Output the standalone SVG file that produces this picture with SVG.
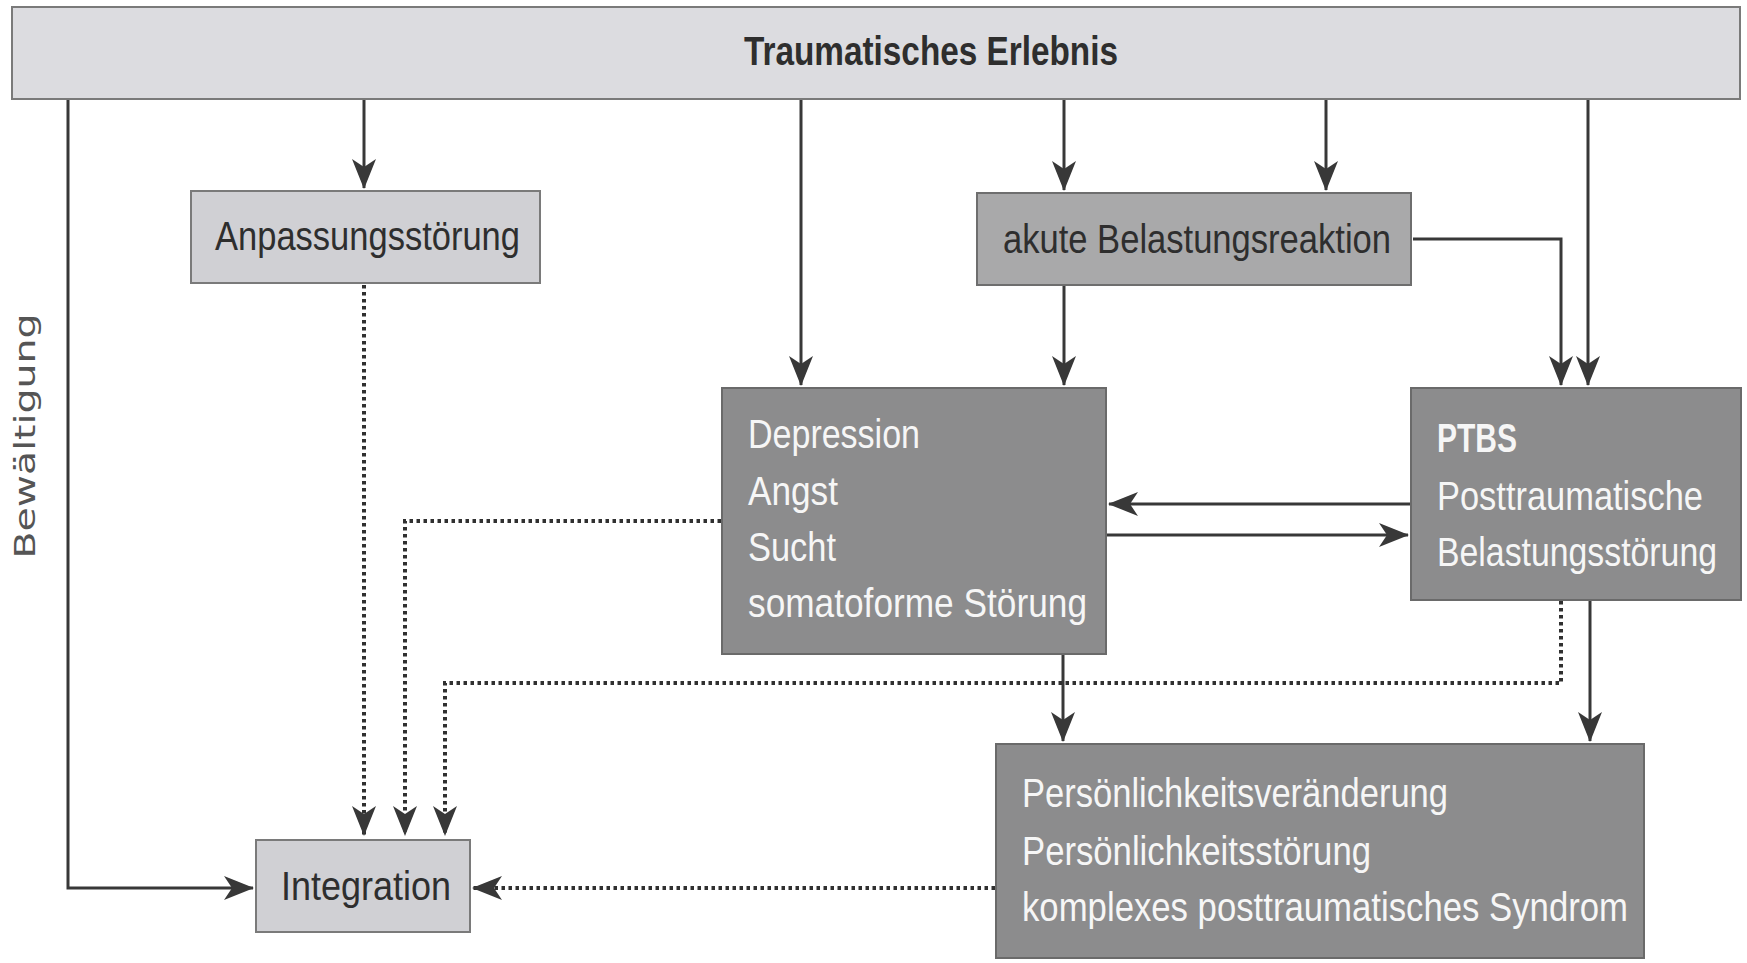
<svg xmlns="http://www.w3.org/2000/svg" width="1747" height="963" viewBox="0 0 1747 963">
<style>
.bg{fill:#ffffff}
.light{fill:#dcdce0;stroke:#7a7a7a;stroke-width:2}
.mid{fill:#d0d0d4;stroke:#7a7a7a;stroke-width:2}
.akute{fill:#a9a9aa;stroke:#6e6e6e;stroke-width:2}
.dark{fill:#8c8c8d;stroke:#6a6a6a;stroke-width:2}
.t{font-family:"Liberation Sans",Arial,sans-serif;font-size:40px;fill:#2e2e2e}
.w{font-family:"Liberation Sans",Arial,sans-serif;font-size:40px;fill:#f6f6f6}
.b{font-weight:bold}
.c{stroke:#383838;stroke-width:3;fill:none}
.d{stroke:#303030;stroke-width:4;fill:none;stroke-dasharray:3.5 3.5}
</style>
<defs>
<marker id="ah" markerUnits="userSpaceOnUse" viewBox="0 0 30 24" markerWidth="30" markerHeight="24" refX="29" refY="12" orient="auto">
<path d="M0,0 L30,12 L0,24 L8,12 Z" fill="#383838"/>
</marker>
</defs>
<rect class="bg" x="0" y="0" width="1747" height="963"/>

<g id="connectors">
<path class="c" d="M68,99 V888 H253" marker-end="url(#ah)"/>
<path class="c" d="M364,99 V188" marker-end="url(#ah)"/>
<path class="c" d="M801,99 V385" marker-end="url(#ah)"/>
<path class="c" d="M1064,99 V190" marker-end="url(#ah)"/>
<path class="c" d="M1326,99 V190" marker-end="url(#ah)"/>
<path class="c" d="M1413,239 H1561 V385" marker-end="url(#ah)"/>
<path class="c" d="M1588,99 V385" marker-end="url(#ah)"/>
<path class="c" d="M1064,285 V385" marker-end="url(#ah)"/>
<path class="c" d="M1411,504 H1109" marker-end="url(#ah)"/>
<path class="c" d="M1106,535 H1408" marker-end="url(#ah)"/>
<path class="c" d="M1063,654 V741" marker-end="url(#ah)"/>
<path class="c" d="M1590,600 V741" marker-end="url(#ah)"/>
<path class="d" d="M364,285 V835" marker-end="url(#ah)"/>
<path class="d" d="M721,521 H405 V835" marker-end="url(#ah)"/>
<path class="d" d="M1561,601 V683 H445 V835" marker-end="url(#ah)"/>
<path class="d" d="M995,888 H473" marker-end="url(#ah)"/>
</g>

<g id="trauma">
<rect class="light" x="12" y="7" width="1728" height="92"/>
<text class="t b" x="744" y="65" font-size="38" textLength="374" lengthAdjust="spacingAndGlyphs">Traumatisches Erlebnis</text>
</g>

<g id="anpassung">
<rect class="mid" x="191" y="191" width="349" height="92"/>
<text class="t" x="215" y="250" textLength="305" lengthAdjust="spacingAndGlyphs">Anpassungsstörung</text>
</g>

<g id="akute">
<rect class="akute" x="977" y="193" width="434" height="92"/>
<text class="t" x="1003" y="253" textLength="388" lengthAdjust="spacingAndGlyphs">akute Belastungsreaktion</text>
</g>

<g id="depression">
<rect class="dark" x="722" y="388" width="384" height="266"/>
<text class="w" x="748" y="448" textLength="172" lengthAdjust="spacingAndGlyphs">Depression</text>
<text class="w" x="748" y="505" textLength="90" lengthAdjust="spacingAndGlyphs">Angst</text>
<text class="w" x="748" y="561" textLength="88" lengthAdjust="spacingAndGlyphs">Sucht</text>
<text class="w" x="748" y="617" textLength="339" lengthAdjust="spacingAndGlyphs">somatoforme Störung</text>
</g>

<g id="ptbs">
<rect class="dark" x="1411" y="388" width="330" height="212"/>
<text class="w b" x="1437" y="452" textLength="80" lengthAdjust="spacingAndGlyphs">PTBS</text>
<text class="w" x="1437" y="510" textLength="266" lengthAdjust="spacingAndGlyphs">Posttraumatische</text>
<text class="w" x="1437" y="566" textLength="280" lengthAdjust="spacingAndGlyphs">Belastungsstörung</text>
</g>

<g id="persoenlichkeit">
<rect class="dark" x="996" y="744" width="648" height="214"/>
<text class="w" x="1022" y="807" textLength="426" lengthAdjust="spacingAndGlyphs">Persönlichkeitsveränderung</text>
<text class="w" x="1022" y="865" textLength="349" lengthAdjust="spacingAndGlyphs">Persönlichkeitsstörung</text>
<text class="w" x="1022" y="921" textLength="606" lengthAdjust="spacingAndGlyphs">komplexes posttraumatisches Syndrom</text>
</g>

<g id="integration">
<rect class="mid" x="256" y="840" width="214" height="92"/>
<text class="t" x="281" y="900" textLength="170" lengthAdjust="spacingAndGlyphs">Integration</text>
</g>

<g id="bewaeltigung">
<text transform="translate(35,436) rotate(-90)" text-anchor="middle" font-family="DejaVu Sans, sans-serif" font-size="28" fill="#555555" textLength="245" lengthAdjust="spacingAndGlyphs">Bewältigung</text>
</g>
</svg>
